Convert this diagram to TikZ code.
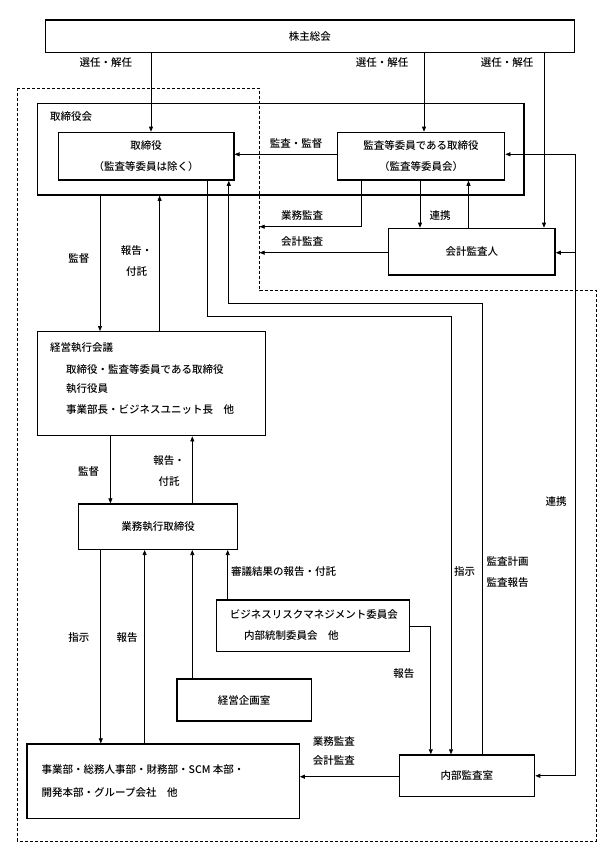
\documentclass[tikz,border=0pt]{standalone}
\usepackage{fontspec}
\setmainfont{Noto Sans CJK JP}[UprightFont=* Medium]
\usetikzlibrary{arrows.meta,calc}
\begin{document}
\begin{tikzpicture}[x=1pt,y=-1pt,
  font=\fontsize{10.5}{21}\selectfont,
  box/.style={draw, line width=1.4pt, inner sep=0pt, align=center},
  arr/.style={line width=0.7pt, -{Triangle[length=5pt,width=4pt]}},
  ln/.style={line width=0.7pt},
  lab/.style={inner sep=0pt, align=center},
  dsh/.style={line width=0.8pt, dash pattern=on 3pt off 2pt}]
\useasboundingbox (0,0) rectangle (603,852);
\fill[white] (0,0) rectangle (603,852);
% dashed region
\draw[dsh] (17.3,88) -- (259.6,88) -- (259.6,290.7) -- (596,290.7) -- (596,841) -- (17.3,841) -- cycle;
% boxes
\node[box, minimum width=528.8pt, minimum height=32.3pt] (sh) at (309.8,36.2) {株主総会};
\node[box, minimum width=486.1pt, minimum height=91.7pt] (bod) at (280.8,149.2) {};
\node[lab, anchor=west] (bodlab) at (50,117) {取締役会};
\node[box, minimum width=175.3pt, minimum height=47.7pt] (dir) at (146.2,156.2) {取締役\\（監査等委員は除く）};
\node[box, minimum width=167.3pt, minimum height=47.7pt] (ac) at (421,156.2) {監査等委員である取締役\\（監査等委員会）};
\node[box, minimum width=166.5pt, minimum height=46.7pt] (aud) at (471.8,251.7) {会計監査人};
\node[box, minimum width=227.7pt, minimum height=104pt] (mgm) at (151.6,383.7) {};
\node[lab, anchor=west] (mgm1) at (50,347.3) {経営執行会議};
\node[lab, anchor=west] (mgm2) at (66,369) {取締役・監査等委員である取締役};
\node[lab, anchor=west] (mgm3) at (66,389) {執行役員};
\node[lab, anchor=west] (mgm4) at (66,409.3) {事業部長・ビジネスユニット長　他};
\node[box, minimum width=158.5pt, minimum height=45.3pt] (exe) at (158,526.7) {業務執行取締役};
\node[box, minimum width=193.1pt, minimum height=51.7pt] (brm) at (313,625.8) {};
\node[lab, anchor=west] (brm1) at (229.6,615) {ビジネスリスクマネジメント委員会};
\node[lab, anchor=west] (brm2) at (244,636) {内部統制委員会　他};
\node[box, minimum width=134.5pt, minimum height=42pt] (plan) at (244.2,700) {経営企画室};
\node[box, minimum width=272.2pt, minimum height=74.3pt] (div) at (163.1,781.2) {};
\node[lab, anchor=west] (div1) at (41.5,770) {事業部・総務人事部・財務部・SCM 本部・};
\node[lab, anchor=west] (div2) at (41.5,792.7) {開発本部・グループ会社　他};
\node[box, minimum width=135.4pt, minimum height=41.7pt] (ia) at (466.9,775.8) {内部監査室};
% free ends on the dashed line
\coordinate (dA) at (259.6,226.7);
\coordinate (dB) at (259.6,252.7);
% connectors from shareholders
\draw[arr] (151,0 |- sh.south) -- (151,0 |- dir.north);
\draw[arr] (424,0 |- sh.south) -- (424,0 |- ac.north);
\draw[arr] (544,0 |- sh.south) -- (544,0 |- aud.north);
\node[lab] (l1) at (105.8,63) {選任・解任};
\node[lab] (l2) at (382,63) {選任・解任};
\node[lab] (l3) at (507,63) {選任・解任};
% audit committee -> directors
\draw[arr] (ac.west |- 0,154.3) -- (dir.east |- 0,154.3);
\node[lab] (l4) at (296,144) {監査・監督};
% right vertical link
\draw[ln] (575,0 |- ia.east) -- (575,154.3);
\draw[arr] (575,154.3) -- (ac.east |- 0,154.3);
\draw[arr] (575,0 |- dB) -- (aud.east |- dB);
\draw[arr] (575,0 |- ia.east) -- (ia.east);
\node[lab] (l5) at (556,502) {連携};
% directors <-> internal audit
\draw[arr] (207.7,0 |- dir.south) -- (207.7,316.7) -- (451,316.7) -- (451,0 |- ia.north);
\node[lab] (l6) at (464.6,572) {指示};
\draw[arr] (482,0 |- ia.north) -- (482,303.3) -- (228.8,303.3) -- (228.8,0 |- dir.south);
\node[lab] (l7) at (507.7,562) {監査計画};
\node[lab] (l8) at (507.7,583) {監査報告};
% audit committee / auditor
\draw[arr] (361.5,0 |- ac.south) -- (361.5,0 |- dA) -- (dA);
\node[lab] (l9) at (302,215.7) {業務監査};
\draw[arr] (420,0 |- ac.south) -- (420,0 |- aud.north);
\node[lab] (l10) at (440,215.7) {連携};
\draw[arr] (468.5,0 |- aud.north) -- (468.5,0 |- ac.south);
\draw[arr] (aud.west |- dB) -- (dB);
\node[lab] (l11) at (302,241.7) {会計監査};
% board <-> management meeting
\draw[arr] (100,0 |- bod.south) -- (100,0 |- mgm.north);
\node[lab] (l12) at (78.8,258.3) {監督};
\draw[arr] (159.6,0 |- mgm.north) -- (159.6,0 |- bod.south);
\node[lab] (l13) at (136.5,260.7) {報告・\\付託};
% management meeting <-> executive directors
\draw[arr] (110.4,0 |- mgm.south) -- (110.4,0 |- exe.north);
\node[lab] (l14) at (88.5,471.7) {監督};
\draw[arr] (192.3,0 |- exe.north) -- (192.3,0 |- mgm.south);
\node[lab] (l15) at (169,470.8) {報告・\\付託};
% executive directors <-> divisions etc.
\draw[arr] (100.8,0 |- exe.south) -- (100.8,0 |- div.north);
\node[lab] (l16) at (78.8,637.3) {指示};
\draw[arr] (144.6,0 |- div.north) -- (144.6,0 |- exe.south);
\node[lab] (l17) at (127,637.3) {報告};
\draw[arr] (192.3,0 |- plan.north) -- (192.3,0 |- exe.south);
\draw[arr] (227.7,0 |- brm.north) -- (227.7,0 |- exe.south);
\node[lab, anchor=west] (l18) at (230.8,571.7) {審議結果の報告・付託};
% committees -> internal audit
\draw[arr] (brm.east |- 0,626.7) -- (430.8,626.7) -- (430.8,0 |- ia.north);
\node[lab] (l19) at (403.8,674) {報告};
% internal audit -> divisions
\draw[arr] (ia.west |- 0,776.7) -- (div.east |- 0,776.7);
\node[lab] (l20) at (333.8,741.7) {業務監査};
\node[lab] (l21) at (333.8,761) {会計監査};
\end{tikzpicture}
\end{document}
